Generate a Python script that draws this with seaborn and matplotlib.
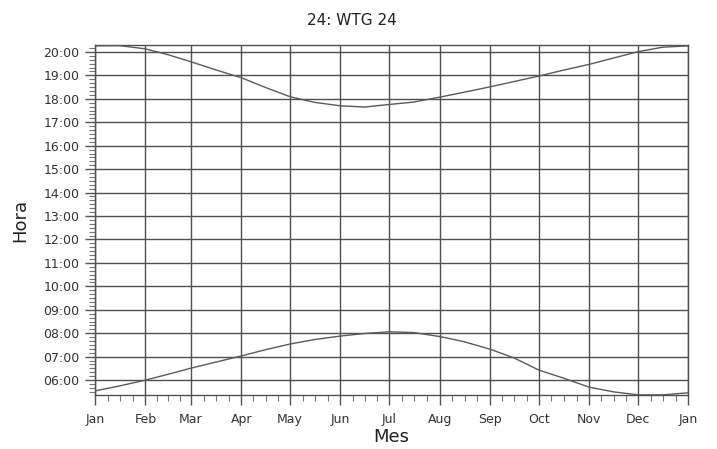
import numpy as np
import pandas as pd
import matplotlib
matplotlib.use("Agg")
import matplotlib.pyplot as plt
import seaborn as sns

# Day of year for each reading (roughly 1st and 15th of each month)
days = [0, 15, 31, 45, 59, 75, 90, 105, 120, 135, 151, 166, 181, 196,
        212, 227, 243, 258, 273, 288, 304, 319, 334, 349, 365]

# Sunset and sunrise, in decimal hours
sunset = [20.26, 20.27, 20.13, 19.88, 19.58, 19.22, 18.90, 18.48, 18.09, 17.85,
          17.70, 17.65, 17.76, 17.86, 18.07, 18.28, 18.51, 18.74, 18.97, 19.22,
          19.47, 19.74, 20.01, 20.20, 20.26]
sunrise = [5.54, 5.75, 6.00, 6.25, 6.51, 6.78, 7.03, 7.30, 7.54, 7.73,
           7.88, 7.99, 8.06, 8.03, 7.86, 7.64, 7.32, 6.94, 6.43, 6.09,
           5.70, 5.50, 5.37, 5.37, 5.46]

month_starts = [0, 31, 59, 90, 120, 151, 181, 212, 243, 273, 304, 334, 365]
month_labels = ['Jan', 'Feb', 'Mar', 'Apr', 'May', 'Jun', 'Jul', 'Aug',
                'Sep', 'Oct', 'Nov', 'Dec', 'Jan']
hours = list(range(6, 21))
hour_labels = [f"{h:02d}:00" for h in hours]

df = pd.DataFrame({
    'Dia': days * 2,
    'Hora': sunset + sunrise,
    'Serie': ['ocaso'] * len(days) + ['orto'] * len(days),
})

sns.set_style("ticks")
plt.rcParams['font.family'] = ['DejaVu Sans']

fig, ax = plt.subplots(figsize=(7.17, 4.49), dpi=100)
fig.subplots_adjust(left=0.1325, right=0.96, top=0.9, bottom=0.12)

grid_col = '#505050'
for m in month_starts:
    ax.axvline(m, color=grid_col, lw=1.0, zorder=1)
for h in hours:
    ax.axhline(h, color=grid_col, lw=1.0, zorder=1)

sns.lineplot(data=df, x='Dia', y='Hora', units='Serie', estimator=None,
             color='#5a5a5a', lw=1.0, ax=ax, zorder=3)

ax.set_xlim(0, 365)
ax.set_ylim(5.36, 20.30)

ax.set_xticks(month_starts)
ax.set_xticklabels(month_labels, fontsize=9, color='#333333')
minor_x = []
for a, b in zip(month_starts[:-1], month_starts[1:]):
    minor_x += [a + (b - a) * k / 4 for k in (1, 2, 3)]
ax.set_xticks(minor_x, minor=True)

ax.set_yticks(hours)
ax.set_yticklabels(hour_labels, fontsize=9, color='#333333')
ax.set_yticks(np.arange(5.5, 20.3, 1 / 6), minor=True)

ax.tick_params(axis='both', which='major', length=7, width=1, color='#555555', pad=4)
ax.tick_params(axis='x', which='major', pad=6)
ax.tick_params(axis='both', which='minor', length=4, width=0.8, color='#777777')

for s in ax.spines.values():
    s.set_color(grid_col)
    s.set_linewidth(1.0)

ax.set_xlabel('Mes', fontsize=13, color='#222222', labelpad=1)
ax.set_ylabel('Hora', fontsize=13, color='#222222', labelpad=10)
fig.text(0.491, 0.955, '24: WTG 24', ha='center', va='center',
         fontsize=11, color='#222222')

fig.savefig('out.png', dpi=100)
